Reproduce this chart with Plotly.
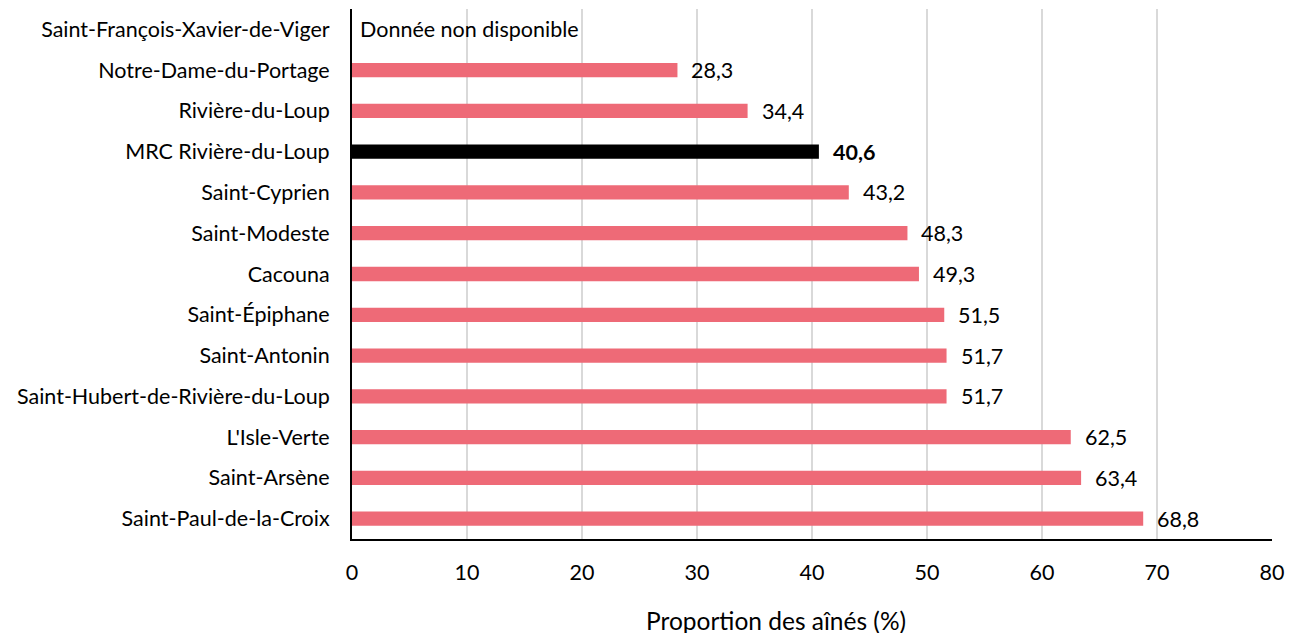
import plotly.graph_objects as go

categories = [
    "Saint-François-Xavier-de-Viger",
    "Notre-Dame-du-Portage",
    "Rivière-du-Loup",
    "MRC Rivière-du-Loup",
    "Saint-Cyprien",
    "Saint-Modeste",
    "Cacouna",
    "Saint-Épiphane",
    "Saint-Antonin",
    "Saint-Hubert-de-Rivière-du-Loup",
    "L'Isle-Verte",
    "Saint-Arsène",
    "Saint-Paul-de-la-Croix",
]
values = [None, 28.3, 34.4, 40.6, 43.2, 48.3, 49.3, 51.5, 51.7, 51.7, 62.5, 63.4, 68.8]
highlight = "MRC Rivière-du-Loup"
missing_text = "Donnée non disponible"
x_title = "Proportion des aînés (%)"
x_ticks = [0, 10, 20, 30, 40, 50, 60, 70, 80]

FONT = "Lato"
FS = 21.5
pink = "#EE6A77"
colors = ["#000000" if c == highlight else pink for c in categories]

fig = go.Figure()
fig.add_trace(go.Bar(
    y=categories,
    x=[v if v is not None else 0 for v in values],
    orientation="h",
    marker=dict(color=colors, line=dict(width=0)),
    width=0.35,
    hoverinfo="skip",
))

annotations = []
for c, v in zip(categories, values):
    if v is None:
        annotations.append(dict(x=0, y=c, xref="x", yref="y", text=missing_text,
                                showarrow=False, xanchor="left", xshift=6,
                                font=dict(family=FONT, size=FS, color="#000")))
    else:
        txt = f"{v:.1f}".replace(".", ",")
        if c == highlight:
            txt = f"<b>{txt}</b>"
        annotations.append(dict(x=v, y=c, xref="x", yref="y", text=txt,
                                showarrow=False, xanchor="left", xshift=12,
                                font=dict(family=FONT, size=FS, color="#000")))

annotations.append(dict(x=0.461, y=-0.154, xref="paper", yref="paper",
                        text=x_title, showarrow=False,
                        xanchor="center", yanchor="middle",
                        font=dict(family=FONT, size=24.5, color="#000")))

fig.update_layout(
    width=1294, height=633,
    margin=dict(l=344, r=30, t=1, b=102, autoexpand=False),
    paper_bgcolor="white", plot_bgcolor="white",
    showlegend=False,
    font=dict(family=FONT, size=FS, color="#000"),
    annotations=annotations,
)
fig.update_xaxes(
    range=[0, 80], tickvals=x_ticks, ticktext=[str(t) for t in x_ticks],
    showgrid=True, gridcolor="#D9D9D9", gridwidth=1.5,
    showline=True, linecolor="#000", linewidth=2,
    zeroline=False, ticks="", ticklen=0, ticklabelstandoff=13,
    tickfont=dict(family=FONT, size=FS),
    automargin=False,
)
fig.update_yaxes(
    categoryorder="array", categoryarray=categories[::-1],
    showline=True, linecolor="#000", linewidth=2,
    showgrid=False, ticks="", ticklabelstandoff=16,
    tickfont=dict(family=FONT, size=FS),
    automargin=False,
)
fig.write_html("out.html")
